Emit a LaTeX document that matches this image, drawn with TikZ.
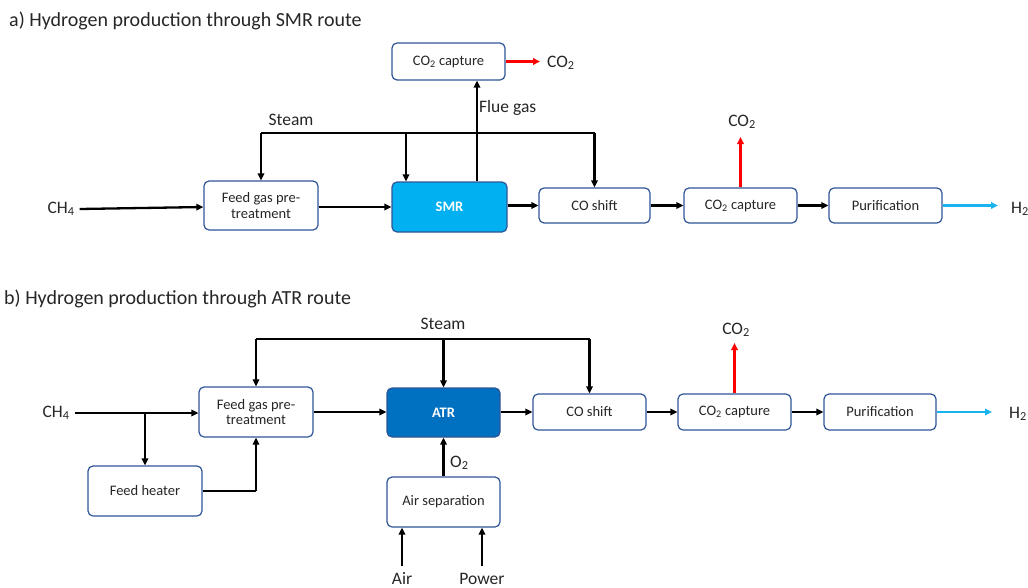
\documentclass[tikz,border=0pt]{standalone}
\usepackage{fontspec}
\setmainfont{Carlito}
\usetikzlibrary{arrows.meta}
\definecolor{boxline}{HTML}{2F5597}
\definecolor{smrblue}{HTML}{00B0F0}
\definecolor{atrblue}{HTML}{0070C0}
\definecolor{htwo}{HTML}{19B4F0}
\definecolor{txt}{HTML}{262626}
\tikzset{
  unit/.style={draw=boxline, line width=1.2pt, rounded corners=5pt, fill=white,
    text=txt, font=\fontsize{14.5}{15.5}\selectfont, align=center,
    inner sep=0pt},
  reactor/.style={unit, text=white, font=\fontsize{14.5}{15.5}\selectfont\bfseries},
  lbl/.style={text=txt, font=\fontsize{17.5}{18}\selectfont, inner sep=0pt},
  ttl/.style={text=txt, font=\fontsize{20}{21}\selectfont, inner sep=0pt, anchor=west},
  flow/.style={line width=2.3pt, -{Triangle[length=7pt,width=6.5pt]}},
  pipe/.style={line width=2.3pt},
  co2out/.style={flow, draw=red},
  h2out/.style={flow, draw=htwo},
}
\begin{document}
\begin{tikzpicture}[x=1pt,y=-1pt]
\useasboundingbox (0,0) rectangle (1028,587);

% ---------------- a) SMR route ----------------
\node[ttl] (ta) at (9,21) {a) Hydrogen production through SMR route};

\node[unit, minimum width=113pt, minimum height=37pt] (cap1) at (448.5,61.5) {CO\textsubscript{2} capture};
\node[unit, minimum width=114pt, minimum height=49pt] (fg1) at (261,205.5) {Feed gas pre-\\treatment};
\node[reactor, fill=smrblue, minimum width=115pt, minimum height=50pt] (smr) at (449.5,207) {SMR};
\node[unit, minimum width=111pt, minimum height=35pt] (cos1) at (594.5,205.5) {CO shift};
\node[unit, minimum width=113pt, minimum height=35pt] (cc1) at (740.5,205.5) {CO\textsubscript{2} capture};
\node[unit, minimum width=113pt, minimum height=35pt] (pur1) at (885.5,205.5) {Purification};

\node[lbl] (ch4a) at (61,209) {CH\textsubscript{4}};
\node[lbl] (steama) at (291,120) {Steam};
\node[lbl, anchor=west] (flue) at (479,108) {Flue gas};
\node[lbl, anchor=west] (co2a1) at (547,63) {CO\textsubscript{2}};
\node[lbl] (co2a2) at (742,122) {CO\textsubscript{2}};
\node[lbl, anchor=west] (h2a) at (1011,209) {H\textsubscript{2}};

\coordinate (sL1) at (261,133);
\coordinate (sR1) at (594.5,133);
\coordinate (co2e1) at (540,61.5);
\coordinate (co2u1) at (740.5,137);
\coordinate (h2e1) at (998,205.5);

\draw[flow] (ch4a.east) ++(5pt,0) -- (fg1.west |- 0,207);
\draw[flow] (fg1.east |- 0,207) -- (smr.west |- 0,207);
\draw[flow] (smr.east |- 0,205.5) -- (cos1.west);
\draw[flow] (cos1.east) -- (cc1.west);
\draw[flow] (cc1.east) -- (pur1.west);
\draw[pipe] (sL1) -- (sR1);
\draw[flow] (sL1) -- (fg1.north);
\draw[flow] (406,133) -- (smr.north -| 406,0);
\draw[flow] (sR1) -- (cos1.north);
\draw[flow] (smr.north -| 477,0) -- (cap1.south -| 477,0);
\draw[co2out] (cap1.east) -- (co2e1);
\draw[co2out] (cc1.north) -- (co2u1);
\draw[h2out] (pur1.east) -- (h2e1);

% ---------------- b) ATR route ----------------
\node[ttl] (tb) at (4,299) {b) Hydrogen production through ATR route};

\node[unit, minimum width=114pt, minimum height=50pt] (fg2) at (256,412) {Feed gas pre-\\treatment};
\node[reactor, fill=atrblue, minimum width=113pt, minimum height=49pt] (atr) at (443.5,412.5) {ATR};
\node[unit, minimum width=113pt, minimum height=36pt] (cos2) at (589.5,412) {CO shift};
\node[unit, minimum width=113pt, minimum height=36pt] (cc2) at (734.5,412) {CO\textsubscript{2} capture};
\node[unit, minimum width=112pt, minimum height=36pt] (pur2) at (880,412) {Purification};
\node[unit, minimum width=114pt, minimum height=50pt] (fh) at (145,491) {Feed heater};
\node[unit, minimum width=113pt, minimum height=50pt] (asep) at (443.5,502) {Air separation};

\node[lbl] (ch4b) at (56,413) {CH\textsubscript{4}};
\node[lbl] (steamb) at (443,324) {Steam};
\node[lbl, anchor=west] (o2) at (450,463) {O\textsubscript{2}};
\node[lbl, anchor=base] (air) at (402,584) {Air};
\node[lbl, anchor=base] (power) at (482,584) {Power};
\node[lbl] (co2b) at (736,330) {CO\textsubscript{2}};
\node[lbl, anchor=west] (h2b) at (1009,414) {H\textsubscript{2}};

\coordinate (sL2) at (256,339);
\coordinate (sR2) at (589.5,339);
\coordinate (br) at (145,413);
\coordinate (fhr) at (256,491);
\coordinate (airin) at (402,566);
\coordinate (powin) at (482,566);
\coordinate (co2u2) at (734.5,343);
\coordinate (h2e2) at (992,412);

\draw[flow] (ch4b.east) ++(5pt,0) -- (fg2.west |- 0,413);
\draw[flow] (br) -- (fh.north);
\draw[pipe] (fh.east) -- (fhr);
\draw[flow] (fhr) -- (fg2.south);
\draw[flow] (fg2.east) -- (atr.west |- 0,412);
\draw[flow] (atr.east |- 0,412) -- (cos2.west);
\draw[flow] (cos2.east) -- (cc2.west);
\draw[flow] (cc2.east) -- (pur2.west);
\draw[pipe] (sL2) -- (sR2);
\draw[flow] (sL2) -- (fg2.north);
\draw[flow] (443.5,339) -- (atr.north);
\draw[flow] (sR2) -- (cos2.north);
\draw[flow] (asep.north) -- (atr.south);
\draw[flow] (airin) -- (asep.south -| airin);
\draw[flow] (powin) -- (asep.south -| powin);
\draw[co2out] (cc2.north) -- (co2u2);
\draw[h2out] (pur2.east) -- (h2e2);
\end{tikzpicture}
\end{document}
